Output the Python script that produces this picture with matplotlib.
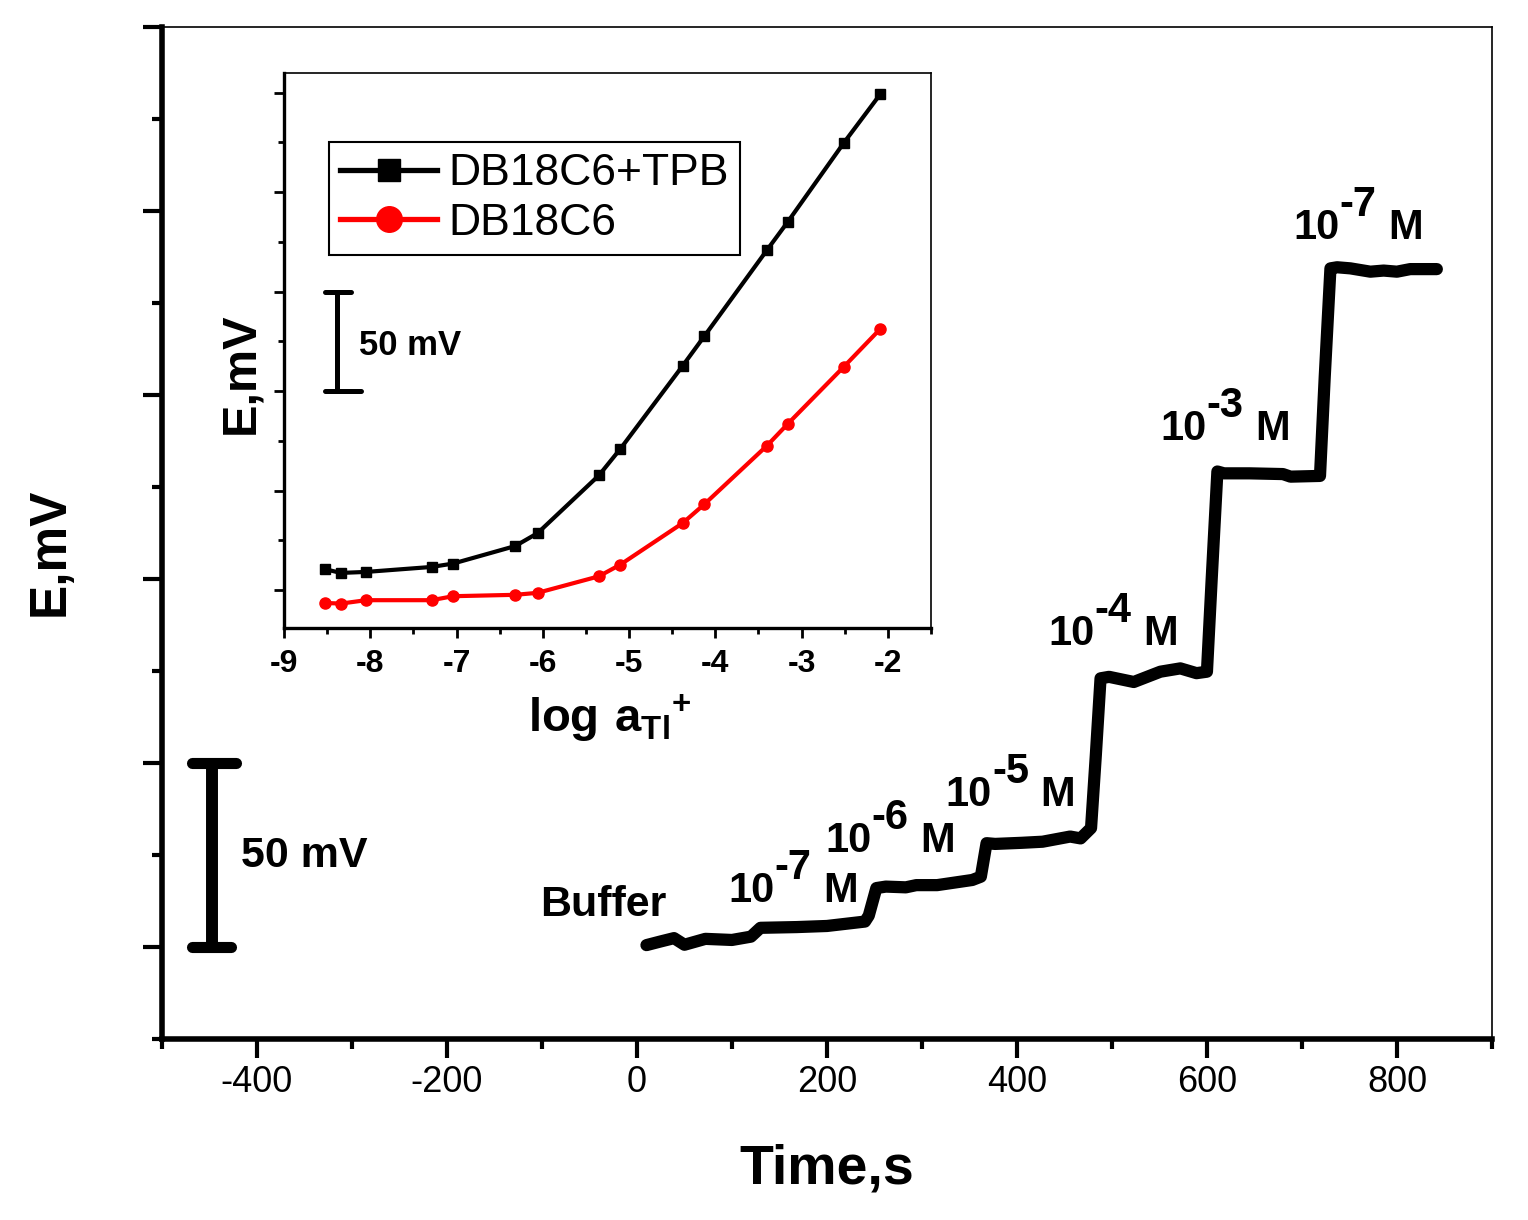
import matplotlib
matplotlib.use('Agg')
from matplotlib import pyplot as plt
from matplotlib.ticker import MultipleLocator
from matplotlib.transforms import offset_copy

plt.rcParams['font.family'] = ['Liberation Sans', 'DejaVu Sans']
plt.rcParams['mathtext.fontset'] = 'custom'
plt.rcParams['mathtext.rm'] = 'Liberation Sans'
plt.rcParams['mathtext.bf'] = 'Liberation Sans:bold'
plt.rcParams['axes.unicode_minus'] = False

# potential vs time trace (mV relative to buffer)
time_s = [10, 25, 39, 50, 72, 100, 120, 130, 168, 200, 240, 244, 252, 262, 283,
          294, 316, 353, 362, 368, 377, 405, 427, 456, 467, 478, 483, 488, 497,
          523, 551, 572, 589, 600, 605, 611, 618, 645, 680, 688, 719, 724, 730,
          737, 751, 772, 786, 800, 814, 842]
e_mv = [0.5, 1.5, 2.4, 0.6, 2.2, 1.9, 2.8, 5.2, 5.4, 5.7, 6.9, 8.5, 16.0, 16.4,
        16.2, 16.8, 16.8, 18.2, 19.1, 28.2, 28.0, 28.3, 28.6, 30.0, 29.5, 32.3,
        52.0, 73.0, 73.4, 72.0, 74.8, 75.7, 74.4, 74.8, 100.0, 129.2, 128.7,
        128.7, 128.5, 127.8, 128.0, 155.0, 184.4, 184.7, 184.4, 183.5, 183.8,
        183.5, 184.2, 184.2]

step_powers = ['-7', '-6', '-5', '-4', '-3', '-7']
step_t = [96, 198, 325, 433, 551, 691]
step_e = [12.2, 25.8, 38.3, 82.1, 137.8, 192.4]

# inset: calibration curves
log_a = [-8.52, -8.34, -8.05, -7.29, -7.04, -6.32, -6.06, -5.35, -5.10,
         -4.38, -4.13, -3.40, -3.16, -2.51, -2.09]
e_tpb = [10.5, 8.7, 9.2, 11.7, 13.4, 22.2, 28.7, 57.7, 71.1,
         112.7, 127.5, 171.0, 185.1, 224.8, 249.1]
e_db = [-6.4, -6.7, -5.0, -5.0, -3.0, -2.3, -1.3, 7.0, 12.9,
        33.7, 43.1, 72.7, 83.6, 112.3, 131.2]


def step_label(ax, t, e, power, fs=30):
    kw = dict(fontsize=fs, fontweight='bold', ha='left', va='baseline')
    ax.text(t, e, '10', **kw)
    tr = offset_copy(ax.transData, fig=ax.figure, x=1.112 * fs, y=0.55 * fs, units='points')
    ax.text(t, e, power, transform=tr, **kw)
    tr = offset_copy(ax.transData, fig=ax.figure, x=2.28 * fs, y=0, units='points')
    ax.text(t, e, 'M', transform=tr, **kw)


fig = plt.figure(figsize=(15.28, 12.2), dpi=100)
ax = fig.add_axes([0.106, 0.1484, 0.8704, 0.8295])

ax.plot(time_s, e_mv, color='black', lw=8.8, solid_capstyle='round', solid_joinstyle='round')
ax.set_xlim(-500, 900)
ax.set_ylim(-25, 250)
ax.xaxis.set_minor_locator(MultipleLocator(100))
ax.yaxis.set_major_locator(MultipleLocator(50))
ax.yaxis.set_minor_locator(MultipleLocator(25))
ax.set_xticks([-400, -200, 0, 200, 400, 600, 800])
ax.tick_params(which='both', direction='out', width=3, top=False, right=False)
ax.tick_params(which='major', length=14, pad=5, labelsize=26)
ax.tick_params(which='minor', length=7)
ax.tick_params(axis='y', labelleft=False)
for s in ['left', 'bottom']:
    ax.spines[s].set_linewidth(4)
for s in ['top', 'right']:
    ax.spines[s].set_linewidth(1.2)

# 50 mV scale bar
ax.plot([-447, -447], [0, 50], color='black', lw=8.6, solid_capstyle='butt')
ax.plot([-468, -422], [50, 50], color='black', lw=8, solid_capstyle='round')
ax.plot([-468, -427], [0, 0], color='black', lw=8, solid_capstyle='round')
ax.text(-417, 21.7, '50 mV', fontsize=31, fontweight='bold', ha='left', va='baseline')

ax.text(-102, 8.4, 'Buffer', fontsize=31, fontweight='bold', ha='left', va='baseline')
for t, e, p in zip(step_t, step_e, step_powers):
    step_label(ax, t, e, p)

fig.text(0.0327, 0.5475, 'E,mV', fontsize=37, fontweight='bold', rotation=90,
         ha='center', va='center')
fig.text(0.541, 0.0303, 'Time,s', fontsize=40, fontweight='bold', ha='center', va='baseline')

# inset
axi = fig.add_axes([0.1859, 0.4852, 0.4234, 0.4552])
axi.plot(log_a, e_tpb, color='black', lw=3, marker='s', ms=7, label='DB18C6+TPB')
axi.plot(log_a, e_db, color='red', lw=3, marker='o', ms=8, label='DB18C6')
axi.set_xlim(-9, -1.5)
axi.set_ylim(-19, 260)
axi.xaxis.set_major_locator(MultipleLocator(1))
axi.xaxis.set_minor_locator(MultipleLocator(0.5))
axi.yaxis.set_major_locator(MultipleLocator(50))
axi.yaxis.set_minor_locator(MultipleLocator(25))
axi.tick_params(which='both', direction='out', width=2, top=False, right=False)
axi.tick_params(which='major', length=7, pad=8, labelsize=23)
axi.tick_params(which='minor', length=4)
axi.tick_params(axis='y', labelleft=False)
for lab in axi.get_xticklabels():
    lab.set_fontweight('bold')
for s in ['left', 'bottom']:
    axi.spines[s].set_linewidth(2.4)
for s in ['top', 'right']:
    axi.spines[s].set_linewidth(1.2)

axi.plot([-8.39, -8.39], [100, 150], color='black', lw=3.6, solid_capstyle='butt')
axi.plot([-8.52, -8.22], [150, 150], color='black', lw=3.6, solid_capstyle='round')
axi.plot([-8.52, -8.11], [100, 100], color='black', lw=3.6, solid_capstyle='round')
axi.text(-8.13, 118, '50 mV', fontsize=25, fontweight='bold', ha='left', va='baseline')

leg = axi.legend(loc='upper left', bbox_to_anchor=(0.215, 0.8836),
                 bbox_transform=fig.transFigure, fontsize=32, markerscale=2.3,
                 handlelength=2.2, handletextpad=0.25, borderpad=0.25,
                 labelspacing=0.2, borderaxespad=0, fancybox=False,
                 framealpha=1, edgecolor='black')
leg.get_frame().set_linewidth(1.5)
for ln in leg.get_lines():
    ln.set_linewidth(3.8)

fig.text(0.1577, 0.694, 'E,mV', fontsize=35, fontweight='bold', rotation=90,
         ha='center', va='center')
fig.text(0.3455, 0.4, r'$\mathbf{log\ a_{Tl}{}^{+}}$', fontsize=34, ha='left', va='baseline')

fig.savefig('out.png', dpi=100)
